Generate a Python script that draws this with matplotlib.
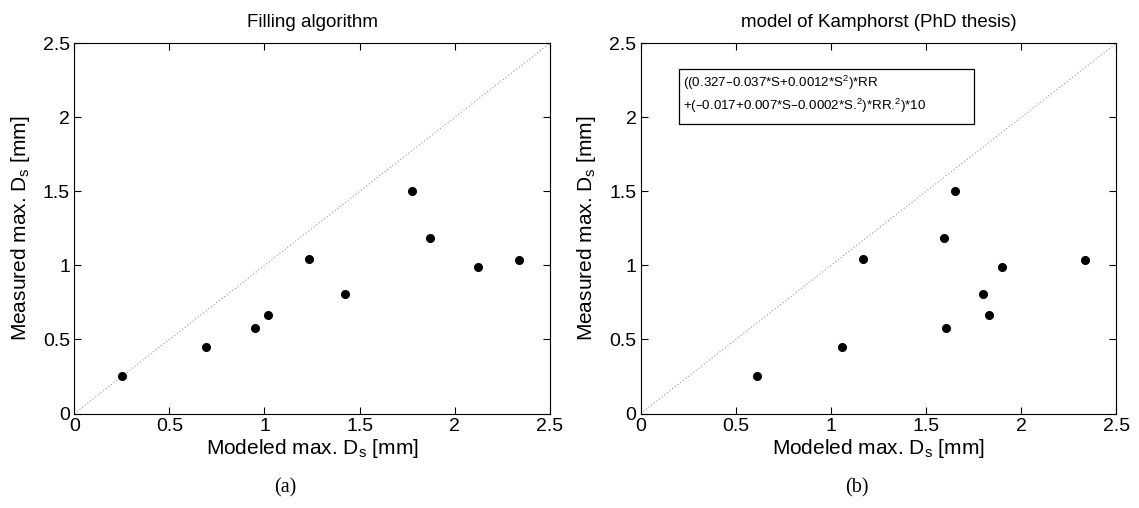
import matplotlib
matplotlib.use("Agg")
import matplotlib.pyplot as plt
from matplotlib.patches import Rectangle

# ==========================================
# DATA
# ==========================================

fill_modeled = [0.25, 0.69, 0.95, 1.02, 1.235, 1.425, 1.775, 1.87, 2.125, 2.34]
fill_measured = [0.255, 0.45, 0.58, 0.667, 1.043, 0.805, 1.505, 1.187, 0.987, 1.04]

kamp_modeled = [0.613, 1.057, 1.167, 1.597, 1.653, 1.607, 1.798, 1.831, 1.901, 2.337]
kamp_measured = [0.255, 0.45, 1.043, 1.187, 1.505, 0.58, 0.805, 0.667, 0.987, 1.04]

titles = ["Filling algorithm", "model of Kamphorst (PhD thesis)"]
captions = ["(a)", "(b)"]
ticks = [0, 0.5, 1, 1.5, 2, 2.5]
tick_labels = ["0", "0.5", "1", "1.5", "2", "2.5"]

formula_lines = [
    "((0.327\u20130.037*S+0.0012*S$^\\mathregular{2}$)*RR",
    "+(\u20130.017+0.007*S\u20130.0002*S.$^\\mathregular{2}$)*RR.$^\\mathregular{2}$)*10",
]

# ==========================================
# FIGURE
# ==========================================

plt.rcParams['font.family'] = ['Liberation Sans', 'DejaVu Sans']

fig = plt.figure(figsize=(11.39, 5.08), dpi=100)

axes_left = [0.0652, 0.5625]
data = [(fill_modeled, fill_measured), (kamp_modeled, kamp_measured)]
caption_x = [285 / 1139, 857 / 1139]

for i in range(2):
    ax = fig.add_axes([axes_left[i], 0.186, 0.4175, 0.7287])
    ax.plot([0, 2.5], [0, 2.5], linestyle=(0, (1, 2)), color='#999999', linewidth=0.8)
    ax.plot(data[i][0], data[i][1], 'o', color='black', markersize=5.5)

    ax.set_xlim(0, 2.5)
    ax.set_ylim(0, 2.5)
    ax.set_xticks(ticks)
    ax.set_xticklabels(tick_labels)
    ax.set_yticks(ticks)
    ax.set_yticklabels(tick_labels)
    ax.tick_params(direction='in', top=True, right=True, labelsize=14, length=5, pad=3)

    ax.set_title(titles[i], fontsize=13.5, pad=12)
    ax.set_xlabel('Modeled max. D$_\\mathregular{s}$ [mm]', fontsize=15, labelpad=2)
    ax.set_ylabel('Measured max. D$_\\mathregular{s}$ [mm]', fontsize=15, labelpad=8)

    fig.text(caption_x[i], 0.039, captions[i], family='Liberation Serif',
             fontsize=14.5, ha='center', va='center')

# formula box on the right panel
ax.add_patch(Rectangle((0.2, 1.958), 1.55, 0.372, facecolor='white',
                       edgecolor='black', linewidth=0.9, zorder=3))
ax.text(0.22, 2.235, formula_lines[0], fontsize=9.6, va='center', ha='left', zorder=4)
ax.text(0.22, 2.08, formula_lines[1], fontsize=9.6, va='center', ha='left', zorder=4)

fig.savefig("out.png", dpi=100)
